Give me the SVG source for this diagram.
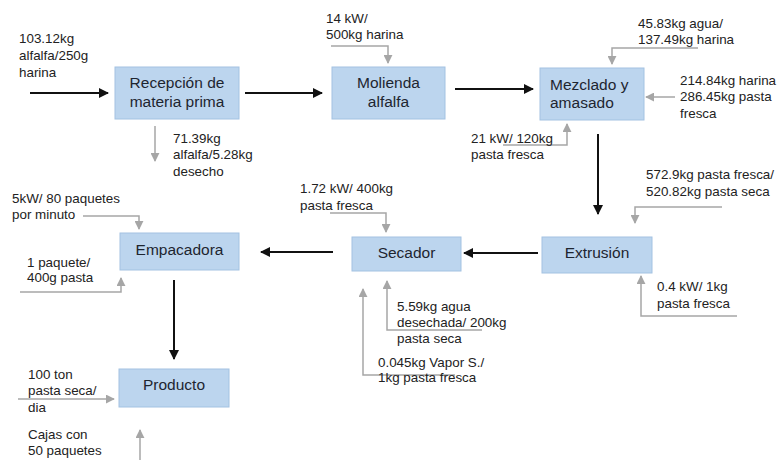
<svg xmlns="http://www.w3.org/2000/svg" width="777" height="460" viewBox="0 0 777 460">
<style>
.box{fill:#bcd5ee;stroke:#a3c2e2;stroke-width:1}
.nt{font-family:"Liberation Sans",Arial,sans-serif;font-size:15.5px;fill:#1e2530}
.lb{font-family:"Liberation Sans",Arial,sans-serif;font-size:13.4px;fill:#222}
.blk{fill:none;stroke:#111;stroke-width:2}
.gry{fill:none;stroke:#a6a6a6;stroke-width:1.5}
</style>
<defs>
<marker id="ab" viewBox="0 0 10 10" refX="9" refY="5" markerWidth="5.5" markerHeight="5" orient="auto" markerUnits="strokeWidth"><path d="M0,0 L10,5 L0,10 z" fill="#111"/></marker>
<marker id="ag" viewBox="0 0 10 10" refX="9" refY="5" markerWidth="6" markerHeight="6" orient="auto" markerUnits="strokeWidth"><path d="M0,0 L10,5 L0,10 z" fill="#a6a6a6"/></marker>
</defs>
<rect width="777" height="460" fill="#fff"/>
<g id="connectors">
<path class="blk" d="M30,93 H108" marker-end="url(#ab)"/>
<path class="blk" d="M245,93 H322" marker-end="url(#ab)"/>
<path class="blk" d="M455,89 H533" marker-end="url(#ab)"/>
<path class="blk" d="M598,134 V214" marker-end="url(#ab)"/>
<path class="blk" d="M538,253 H464" marker-end="url(#ab)"/>
<path class="blk" d="M333,252 H261" marker-end="url(#ab)"/>
<path class="blk" d="M174,280 V359" marker-end="url(#ab)"/>
<path class="gry" d="M155,126 V161" marker-end="url(#ag)"/>
<path class="gry" d="M331,46 H388 V63" marker-end="url(#ag)"/>
<path class="gry" d="M698,48 H612 V64" marker-end="url(#ag)"/>
<path class="gry" d="M675,97 H646" marker-end="url(#ag)"/>
<path class="gry" d="M503,145 H567 V124" marker-end="url(#ag)"/>
<path class="gry" d="M722,207 H635 V223" marker-end="url(#ag)"/>
<path class="gry" d="M737,316 H641 V276" marker-end="url(#ag)"/>
<path class="gry" d="M330,213 H386 V232" marker-end="url(#ag)"/>
<path class="gry" d="M482,330 H387 V281" marker-end="url(#ag)"/>
<path class="gry" d="M455,375 H363 V289" marker-end="url(#ag)"/>
<path class="gry" d="M83,216 H139 V229" marker-end="url(#ag)"/>
<path class="gry" d="M20,292 H121 V278" marker-end="url(#ag)"/>
<path class="gry" d="M18,399 H114" marker-end="url(#ag)"/>
<path class="gry" d="M140,460 V430" marker-end="url(#ag)"/>
</g>
<g id="recepcion">
<rect class="box" x="115" y="67" width="124" height="52"/>
<text class="nt" x="177" y="88" text-anchor="middle">Recepción de</text>
<text class="nt" x="177" y="107" text-anchor="middle">materia prima</text>
</g>
<g id="molienda">
<rect class="box" x="332" y="67" width="113" height="52"/>
<text class="nt" x="388.5" y="88" text-anchor="middle">Molienda</text>
<text class="nt" x="388.5" y="107" text-anchor="middle">alfalfa</text>
</g>
<g id="mezclado">
<rect class="box" x="540" y="68" width="104" height="52"/>
<text class="nt" x="550" y="90">Mezclado y</text>
<text class="nt" x="550" y="108">amasado</text>
</g>
<g id="extrusion">
<rect class="box" x="542" y="237" width="110" height="36"/>
<text class="nt" x="597" y="258" text-anchor="middle">Extrusión</text>
</g>
<g id="secador">
<rect class="box" x="352" y="237" width="109" height="34"/>
<text class="nt" x="406.5" y="258" text-anchor="middle">Secador</text>
</g>
<g id="empacadora">
<rect class="box" x="120" y="233" width="119" height="37"/>
<text class="nt" x="179.5" y="255" text-anchor="middle">Empacadora</text>
</g>
<g id="producto">
<rect class="box" x="119" y="369" width="110" height="38"/>
<text class="nt" x="174" y="390" text-anchor="middle">Producto</text>
</g>
<g id="labels">
<text class="lb" x="19" y="43">103.12kg</text>
<text class="lb" x="19" y="60">alfalfa/250g</text>
<text class="lb" x="19" y="76.5">harina</text>
<text class="lb" x="173" y="142.5">71.39kg</text>
<text class="lb" x="173" y="159">alfalfa/5.28kg</text>
<text class="lb" x="173" y="175.5">desecho</text>
<text class="lb" x="326" y="22.5">14 kW/</text>
<text class="lb" x="326" y="39">500kg harina</text>
<text class="lb" x="638" y="27.5">45.83kg agua/</text>
<text class="lb" x="638" y="44">137.49kg harina</text>
<text class="lb" x="680" y="84.5">214.84kg harina</text>
<text class="lb" x="680" y="101">286.45kg pasta</text>
<text class="lb" x="680" y="117.5">fresca</text>
<text class="lb" x="471" y="142.5">21 kW/ 120kg</text>
<text class="lb" x="471" y="159">pasta fresca</text>
<text class="lb" x="646" y="179">572.9kg pasta fresca/</text>
<text class="lb" x="646" y="196">520.82kg pasta seca</text>
<text class="lb" x="657" y="291">0.4 kW/ 1kg</text>
<text class="lb" x="657" y="307.5">pasta fresca</text>
<text class="lb" x="300" y="193">1.72 kW/ 400kg</text>
<text class="lb" x="300" y="209.5">pasta fresca</text>
<text class="lb" x="397" y="311">5.59kg agua</text>
<text class="lb" x="397" y="327">desechada/ 200kg</text>
<text class="lb" x="397" y="343">pasta seca</text>
<text class="lb" x="378" y="366.5">0.045kg Vapor S./</text>
<text class="lb" x="378" y="382">1kg pasta fresca</text>
<text class="lb" x="12" y="203">5kW/ 80 paquetes</text>
<text class="lb" x="12" y="219">por minuto</text>
<text class="lb" x="27" y="266.5">1 paquete/</text>
<text class="lb" x="27" y="282">400g pasta</text>
<text class="lb" x="28" y="378.5">100 ton</text>
<text class="lb" x="28" y="395">pasta seca/</text>
<text class="lb" x="28" y="411.5">dia</text>
<text class="lb" x="28" y="438.5">Cajas con</text>
<text class="lb" x="28" y="454.5">50 paquetes</text>
</g>
</svg>
